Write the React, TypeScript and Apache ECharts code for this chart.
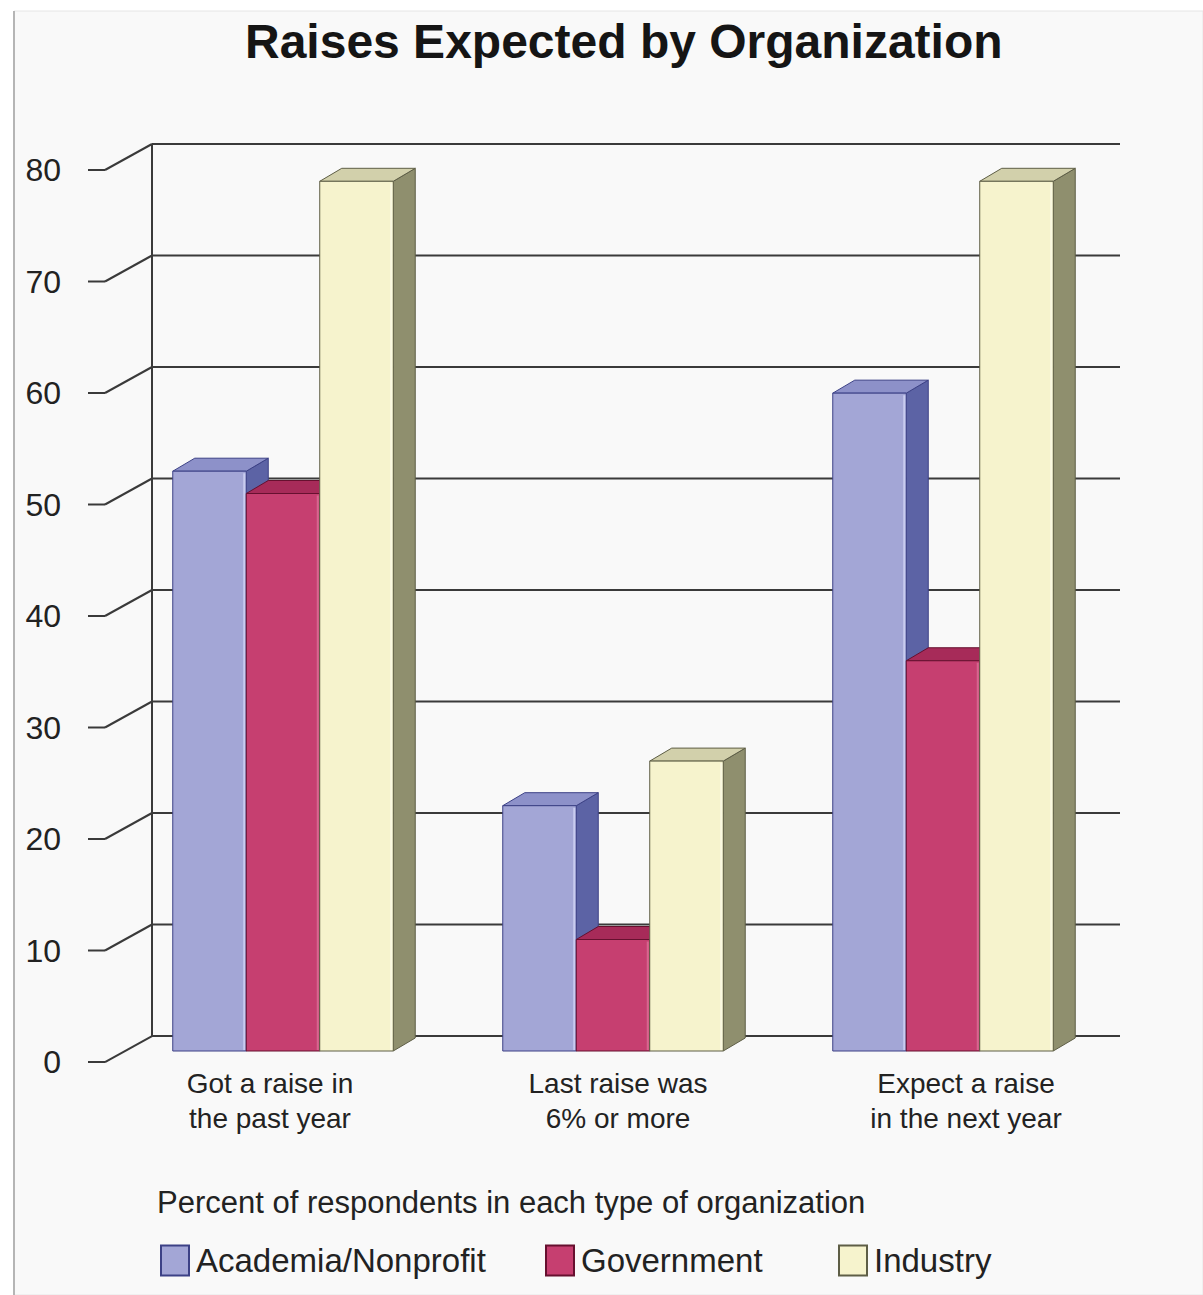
import React, { useEffect, useRef } from "react";
import * as echarts from "echarts";

const categories = ["Got a raise in\nthe past year", "Last raise was\n6% or more", "Expect a raise\nin the next year"];
const seriesNames = ["Academia/Nonprofit", "Government", "Industry"];
const academiaValues = [52, 22, 59];
const governmentValues = [50, 10, 35];
const industryValues = [78, 26, 78];
const yTicks = [0, 10, 20, 30, 40, 50, 60, 70, 80];

const FONT = "Liberation Sans";
const palette = [
  { front: "#a3a6d6", top: "#8d91c9", side: "#5c63a5", edge: "#3c4186", hi: "#c9ccef" },
  { front: "#c63f70", top: "#a72b59", side: "#8c1f47", edge: "#66102f", hi: "#d8668f" },
  { front: "#f6f3cd", top: "#d2d0ab", side: "#8f8f6e", edge: "#5e5e46", hi: "#fbf9e2" },
];
const DX = 22;
const DY = -13;

export default function App() {
  const ref = useRef<HTMLDivElement>(null);
  useEffect(() => {
    if (!ref.current) return;
    const chart = echarts.init(ref.current, null, { renderer: "svg" });

    const barRender = (k: number) => (params: any, api: any) => {
      const idx = api.value(0);
      const val = api.value(1);
      const top = api.coord([idx, val]);
      const base = api.coord([idx, 0]);
      const bw = api.size([1, 0])[0] * 0.2227;
      const x0 = top[0] - 1.5 * bw + k * bw;
      const yT = top[1];
      const yB = base[1];
      const c = palette[k];
      const x1 = x0 + bw;
      return {
        type: "group",
        children: [
          {
            type: "polygon",
            shape: { points: [[x1, yT], [x1 + DX, yT + DY], [x1 + DX, yB + DY], [x1, yB]] },
            style: { fill: c.side, stroke: c.edge, lineWidth: 1 },
          },
          {
            type: "polygon",
            shape: { points: [[x0, yT], [x0 + DX, yT + DY], [x1 + DX, yT + DY], [x1, yT]] },
            style: { fill: c.top, stroke: c.edge, lineWidth: 1 },
          },
          {
            type: "rect",
            shape: { x: x0, y: yT, width: bw, height: yB - yT },
            style: { fill: c.front, stroke: c.edge, lineWidth: 1 },
          },
          {
            type: "line",
            shape: { x1: x1 - 2, y1: yT + 2, x2: x1 - 2, y2: yB - 1 },
            style: { stroke: c.hi, lineWidth: 2 },
          },
        ],
      };
    };

    const wallRender = (params: any, api: any) => {
      const v = api.value(1);
      const cs = params.coordSys;
      const y = api.coord([0, v])[1];
      const wallLeft = cs.x + 34;
      const wallRight = cs.x + cs.width + 12;
      const frontX = cs.x - 13;
      const lineStyle = { stroke: "#3a3a3a", lineWidth: 2 };
      const children: any[] = [
        { type: "line", shape: { x1: frontX - 17, y1: y + 11, x2: frontX, y2: y + 11 }, style: lineStyle },
        { type: "line", shape: { x1: frontX, y1: y + 11, x2: wallLeft, y2: y - 15 }, style: lineStyle },
        { type: "line", shape: { x1: wallLeft, y1: y - 15, x2: wallRight, y2: y - 15 }, style: lineStyle },
      ];
      if (v === 0) {
        const yTop = api.coord([0, yTicks[yTicks.length - 1]])[1];
        children.push({ type: "line", shape: { x1: wallLeft, y1: y - 15, x2: wallLeft, y2: yTop - 15 }, style: lineStyle });
      }
      return { type: "group", children };
    };

    const dataFor = (vals: number[]) => vals.map((v, i) => [i, v]);

    chart.setOption({
      animation: false,
      backgroundColor: "#ffffff",
      graphic: [
        { type: "rect", z: -10, shape: { x: 14, y: 11, width: 1189, height: 1284 }, style: { fill: "#f9f9f9", stroke: "#e6e6e6", lineWidth: 1 } },
        { type: "line", z: -9, shape: { x1: 14, y1: 11, x2: 14, y2: 1295 }, style: { stroke: "#b5b5b5", lineWidth: 2 } },
      ],
      title: [
        {
          text: "Raises Expected by Organization",
          left: 240,
          top: 12,
          textStyle: { fontSize: 48, fontWeight: "bold", fontFamily: FONT, color: "#151515" },
        },
        {
          text: "Percent of respondents in each type of organization",
          left: 152,
          top: 1182,
          textStyle: { fontSize: 31, fontWeight: "normal", fontFamily: FONT, color: "#222" },
        },
      ],
      legend: seriesNames.map((name, k) => ({
        left: [155, 540, 833][k],
        top: 1239,
        icon: "rect",
        itemWidth: 28,
        itemHeight: 30,
        selectedMode: false,
        data: [{ name, itemStyle: { color: palette[k].front, borderColor: palette[k].edge, borderWidth: 2 } }],
        textStyle: { fontSize: 33, fontFamily: FONT, color: "#222", padding: [0, 0, 0, 2] },
      })),
      grid: [
        { left: 118, right: 95, top: 159, bottom: 244 },
        { left: 105, right: 95, top: 170, bottom: 233 },
        { left: 96, right: 63, top: 159, bottom: 244 },
      ],
      xAxis: [
        { type: "category", gridIndex: 0, data: categories, show: false },
        { type: "value", gridIndex: 1, show: false },
        {
          type: "category",
          gridIndex: 2,
          data: categories,
          axisLine: { show: false },
          axisTick: { show: false },
          axisLabel: { fontSize: 28, lineHeight: 35, margin: 15, color: "#222", fontFamily: FONT },
        },
      ],
      yAxis: [
        { type: "value", gridIndex: 0, min: 0, max: 80, interval: 10, show: false },
        {
          type: "value",
          gridIndex: 1,
          min: 0,
          max: 80,
          interval: 10,
          axisLine: { show: false },
          axisTick: { show: false },
          splitLine: { show: false },
          axisLabel: { fontSize: 32, margin: 44, color: "#222", fontFamily: FONT },
        },
        { type: "value", gridIndex: 2, min: 0, max: 80, show: false },
      ],
      series: [
        {
          type: "custom",
          name: "wall",
          xAxisIndex: 0,
          yAxisIndex: 0,
          silent: true,
          data: yTicks.map((v) => [0, v]),
          renderItem: wallRender,
        },
        ...seriesNames.map((name, k) => ({
          type: "custom",
          name,
          xAxisIndex: 0,
          yAxisIndex: 0,
          silent: true,
          itemStyle: { color: palette[k].front },
          data: dataFor([academiaValues, governmentValues, industryValues][k]),
          renderItem: barRender(k),
        })),
      ],
    });
    return () => chart.dispose();
  }, []);

  return (
    <div
      ref={ref}
      style={{ position: "fixed", left: 0, top: 0, width: 1203, height: 1295 }}
    />
  );
}
